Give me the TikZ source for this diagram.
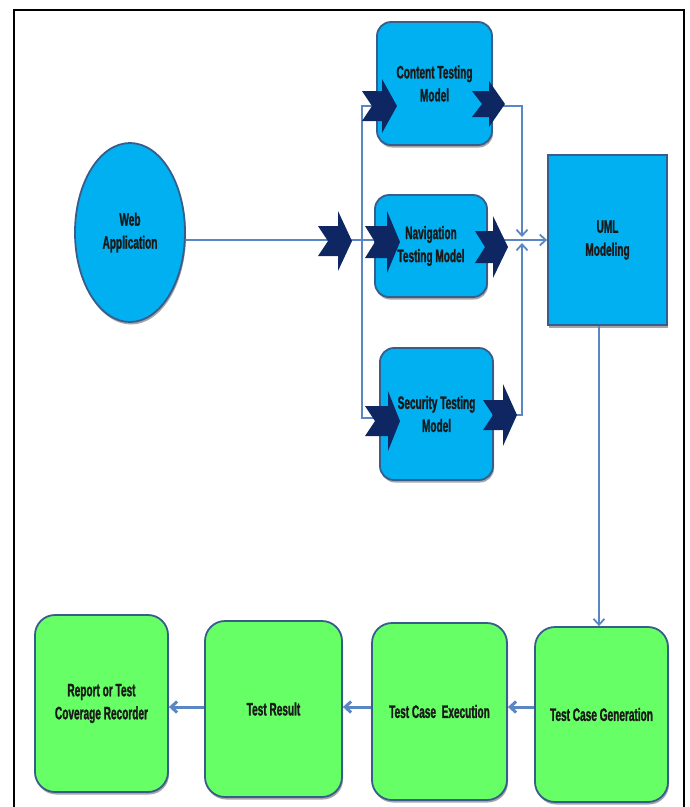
\documentclass[tikz,border=0pt]{standalone}
\usepackage{fontspec}
\setmainfont{Liberation Sans}[FakeStretch=0.56, FakeBold=1.2]
\usetikzlibrary{arrows.meta,shadows,shapes.geometric}

\definecolor{boxblue}{RGB}{0,176,240}
\definecolor{boxgreen}{RGB}{102,255,102}
\definecolor{edgeblue}{RGB}{56,93,138}
\definecolor{linkblue}{RGB}{90,135,195}
\definecolor{chevnavy}{RGB}{14,38,98}

\tikzset{
  lbl/.style={font=\bfseries\fontsize{18}{23}\selectfont, align=center, text=black!90},
  shade/.style={drop shadow={shadow xshift=1pt, shadow yshift=-2.5pt, fill=black, opacity=0.35}},
  model/.style={lbl, shade, draw=edgeblue, line width=1.8pt, fill=boxblue, rounded corners=14pt},
  stage/.style={lbl, shade, draw=edgeblue, line width=1.8pt, fill=boxgreen, rounded corners=20pt},
  link/.style={draw=linkblue, line width=1.8pt},
  flow/.style={draw=linkblue, line width=3pt},
  tip/.style={-{Straight Barb[length=6pt,width=11pt]}},
}

% notched chevron: tip x, tip y, length, head length, head half-height, shaft half-height
\newcommand\chevron[6]{%
  \fill[chevnavy, shift={(#1,#2)}]
    (-#3,-#6) -- (-#4,-#6) -- (-#4,-#5) -- (0,0) -- (-#4,#5) -- (-#4,#6)
    -- (-#3,#6) -- (-#3+10,0) -- cycle;}

\begin{document}
\begin{tikzpicture}[x=1pt,y=-1pt]
\useasboundingbox (0,0) rectangle (690,807);

% outer frame, open at the bottom
\draw[line width=2.8pt] (14,807) -- (14,10) -- (684,10) -- (684,807);

% input and testing models
\node[lbl, shade, ellipse, draw=edgeblue, line width=1.8pt, fill=boxblue,
      minimum width=110pt, minimum height=179pt, inner sep=0pt] (web) at (130,232.5) {Web\\Application};
\node[model, minimum width=115pt, minimum height=123pt] (content) at (434.5,83.5) {Content Testing\\Model};
\node[model, minimum width=112pt, minimum height=102pt] (nav) at (431,246) {Navigation\\Testing Model};
\node[model, minimum width=113pt, minimum height=132pt] (sec) at (436.5,414) {Security Testing\\Model};
\node[lbl, shade, draw=edgeblue, line width=1.8pt, fill=boxblue,
      minimum width=119pt, minimum height=170pt] (uml) at (607.5,240) {UML\\Modeling};

% test pipeline
\node[stage, minimum width=133pt, minimum height=175pt] (gen) at (601.5,714.5) {Test Case Generation};
\node[stage, minimum width=135pt, minimum height=177pt] (exec) at (439.5,711.5) {Test Case\ \ Execution};
\node[stage, minimum width=137pt, minimum height=176pt] (result) at (273.5,709) {Test Result};
\node[stage, minimum width=133pt, minimum height=177pt] (report) at (101.5,703.5) {Report or Test\\Coverage Recorder};

% branch and merge points
\coordinate (jl)  at (362,240);
\coordinate (jlt) at (362,106);
\coordinate (jlb) at (362,418);
\coordinate (jr)  at (522,240);
\coordinate (jrt) at (522,106);
\coordinate (jrb) at (522,415);
\coordinate (dn)  at (599,0);
\coordinate (hz)  at (0,707);

% fan-out to the models
\draw[link] (web.east |- jl) -- (jl -| nav.west);
\draw[link] (jl) -- (jlt) -- (jlt -| content.west);
\draw[link] (jl) -- (jlb) -- (jlb -| sec.west);

% merge into UML modeling
\draw[link, tip] (content.east |- jrt) -- (jrt) -- (522,237);
\draw[link, tip] (sec.east |- jrb) -- (jrb) -- (522,243);
\draw[link] (nav.east |- jr) -- (jr);
\draw[link, tip] (jr) -- (uml.west |- jr);

% UML modeling down to generation
\draw[link, tip] (uml.south -| dn) -- (gen.north -| dn);

% pipeline arrows
\draw[flow, tip] (gen.west |- hz) -- (exec.east |- hz);
\draw[flow, tip] (exec.west |- hz) -- (result.east |- hz);
\draw[flow, tip] (result.west |- hz) -- (report.east |- hz);

% chevrons
\chevron{352}{241}{34}{14}{30}{15}
\chevron{397}{106}{35}{15}{27}{15}
\chevron{505}{104}{33}{16}{23}{13}
\chevron{400}{242}{35}{13}{31}{16}
\chevron{508}{247}{33}{15}{31}{16}
\chevron{400}{421}{35}{12}{30}{15}
\chevron{517}{415}{34}{14}{31}{15}
\end{tikzpicture}
\end{document}
